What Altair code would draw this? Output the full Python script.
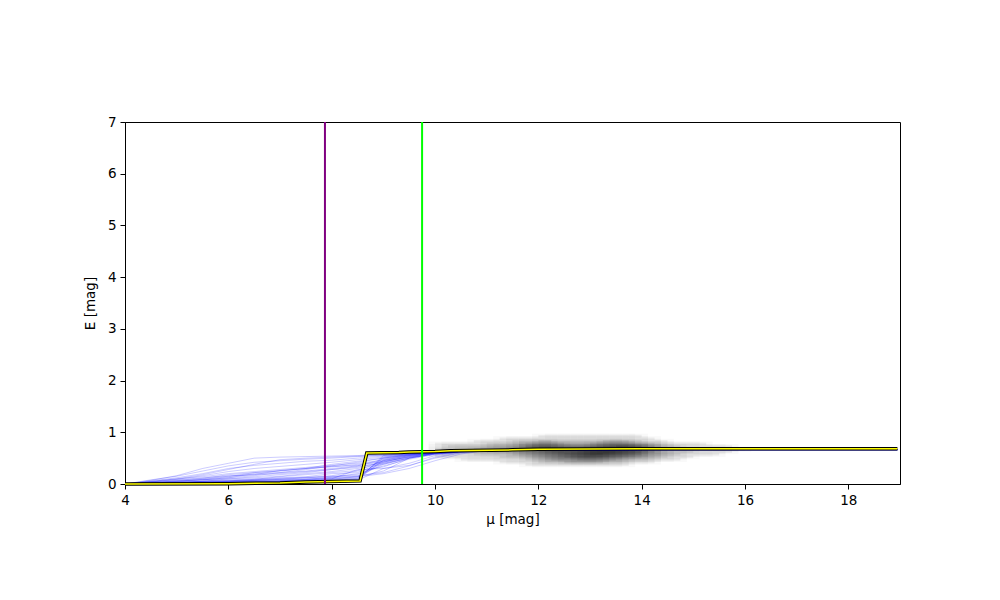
import altair as alt
import pandas as pd

# ---------------- data ----------------
# common distance grid for the sampled extinction profiles
mu_grid = [4.0, 4.5, 5.0, 5.5, 6.0, 6.5, 7.0, 7.5, 8.0, 8.5, 9.0, 9.5, 10.0, 10.5,
           11.0, 12.0, 14.0, 18.95]
sample_tail = [0.645, 0.655, 0.665, 0.665]
samples = [
    [0, 0, 0.01, 0.02, 0.03, 0.04, 0.05, 0.06, 0.07, 0.09, 0.45, 0.55, 0.60, 0.63],
    [0, 0.01, 0.02, 0.02, 0.04, 0.05, 0.05, 0.08, 0.10, 0.12, 0.50, 0.58, 0.61, 0.63],
    [0, 0, 0.01, 0.03, 0.03, 0.06, 0.07, 0.07, 0.09, 0.14, 0.25, 0.50, 0.60, 0.63],
    [0, 0.02, 0.02, 0.03, 0.05, 0.06, 0.08, 0.10, 0.12, 0.15, 0.38, 0.50, 0.58, 0.62],
    [0, 0, 0, 0.01, 0.02, 0.02, 0.04, 0.05, 0.06, 0.08, 0.55, 0.60, 0.62, 0.63],
    [0, 0.01, 0.01, 0.04, 0.04, 0.05, 0.06, 0.09, 0.13, 0.20, 0.35, 0.48, 0.57, 0.62],
    [0, 0, 0.02, 0.02, 0.05, 0.07, 0.09, 0.09, 0.11, 0.14, 0.20, 0.30, 0.45, 0.58],
    [0, 0.01, 0.03, 0.05, 0.06, 0.08, 0.10, 0.12, 0.15, 0.18, 0.40, 0.52, 0.59, 0.63],
    [0, 0, 0.01, 0.01, 0.02, 0.04, 0.04, 0.06, 0.08, 0.10, 0.47, 0.57, 0.61, 0.63],
    [0, 0.02, 0.04, 0.05, 0.07, 0.08, 0.11, 0.13, 0.16, 0.25, 0.33, 0.50, 0.58, 0.62],
    [0, 0.01, 0.02, 0.06, 0.08, 0.10, 0.12, 0.14, 0.20, 0.22, 0.42, 0.53, 0.60, 0.63],
    [0, 0, 0.01, 0.02, 0.03, 0.03, 0.06, 0.08, 0.10, 0.28, 0.30, 0.36, 0.50, 0.60],
    [0, 0.02, 0.03, 0.04, 0.06, 0.09, 0.14, 0.18, 0.22, 0.26, 0.45, 0.55, 0.60, 0.63],
    [0, 0.01, 0.05, 0.08, 0.10, 0.12, 0.15, 0.20, 0.24, 0.30, 0.38, 0.51, 0.59, 0.63],
    [0, 0, 0.01, 0.01, 0.02, 0.03, 0.03, 0.05, 0.06, 0.07, 0.30, 0.40, 0.55, 0.62],
    [0, 0.01, 0.01, 0.02, 0.03, 0.04, 0.05, 0.05, 0.07, 0.11, 0.52, 0.59, 0.61, 0.63],
    [0, 0.03, 0.06, 0.10, 0.15, 0.18, 0.20, 0.24, 0.28, 0.32, 0.42, 0.54, 0.60, 0.63],
    [0, 0.02, 0.04, 0.08, 0.12, 0.20, 0.22, 0.25, 0.30, 0.35, 0.48, 0.56, 0.61, 0.63],
    [0, 0.04, 0.08, 0.12, 0.16, 0.18, 0.26, 0.30, 0.33, 0.38, 0.44, 0.52, 0.59, 0.63],
    [0, 0.01, 0.03, 0.05, 0.10, 0.14, 0.18, 0.22, 0.28, 0.34, 0.40, 0.50, 0.58, 0.62],
    [0, 0.05, 0.10, 0.14, 0.20, 0.24, 0.28, 0.32, 0.36, 0.40, 0.46, 0.55, 0.60, 0.63],
    [0, 0.02, 0.06, 0.08, 0.12, 0.16, 0.22, 0.28, 0.35, 0.42, 0.50, 0.57, 0.61, 0.63],
    [0, 0.03, 0.05, 0.09, 0.14, 0.22, 0.26, 0.30, 0.34, 0.36, 0.43, 0.53, 0.60, 0.63],
    [0, 0.04, 0.07, 0.11, 0.18, 0.22, 0.25, 0.30, 0.38, 0.44, 0.50, 0.56, 0.61, 0.63],
    [0, 0.06, 0.12, 0.20, 0.30, 0.36, 0.40, 0.44, 0.46, 0.50, 0.54, 0.58, 0.61, 0.63],
    [0, 0.08, 0.15, 0.25, 0.35, 0.42, 0.45, 0.48, 0.50, 0.53, 0.56, 0.59, 0.62, 0.63],
    [0, 0.05, 0.10, 0.18, 0.28, 0.38, 0.47, 0.50, 0.52, 0.54, 0.55, 0.58, 0.61, 0.63],
    [0, 0.07, 0.16, 0.30, 0.40, 0.50, 0.52, 0.53, 0.54, 0.55, 0.57, 0.59, 0.62, 0.63],
    [0, 0.04, 0.09, 0.16, 0.24, 0.30, 0.34, 0.38, 0.42, 0.47, 0.52, 0.57, 0.61, 0.63],
    [0, 0.01, 0.02, 0.04, 0.05, 0.07, 0.09, 0.12, 0.14, 0.16, 0.22, 0.35, 0.52, 0.61],
]

# median (best) profile
median_mu = [4.0, 6.0, 7.0, 7.5, 8.55, 8.68, 9.3, 9.5, 10.0, 10.3, 11.5, 12.0, 14.0, 18.95]
median_E = [0.0, 0.005, 0.02, 0.04, 0.06, 0.60, 0.61, 0.62, 0.63, 0.645, 0.66, 0.67, 0.68, 0.68]

# vertical markers
marker_mu = [7.87, 9.75]
marker_name = ["a", "b"]
marker_color = ["#800080", "#00ff00"]

# stellar density image: rows from top (high E) to bottom, columns of 0.25 mag from 10.0
dens_mu0 = 10.0
dens_dmu = 0.25
dens_E_top = 0.95
dens_dE = 0.05
density = [
    [0, 0, 0, 0, 0, 0, 0, 0, 1, 1, 1, 1, 1, 1, 1, 1, 0, 0, 0, 0, 0, 0, 0, 0, 0, 0],
    [0, 0, 0, 0, 0, 1, 1, 1, 1, 1, 1, 1, 1, 1, 1, 1, 1, 0, 0, 0, 0, 0, 0, 0, 0, 0],
    [0, 0, 0, 1, 1, 1, 2, 2, 3, 2, 2, 2, 2, 3, 3, 2, 1, 1, 0, 0, 0, 0, 0, 0, 0, 0],
    [1, 1, 1, 1, 2, 2, 3, 4, 5, 4, 3, 3, 4, 5, 5, 4, 3, 2, 1, 1, 1, 0, 0, 0, 0, 0],
    [1, 2, 2, 2, 3, 3, 4, 6, 7, 6, 5, 5, 6, 7, 8, 7, 5, 3, 2, 1, 1, 1, 1, 0, 0, 0],
    [2, 2, 2, 3, 3, 4, 5, 6, 7, 7, 6, 7, 8, 8, 8, 7, 5, 3, 2, 2, 1, 1, 1, 1, 0, 0],
    [2, 2, 2, 2, 3, 3, 4, 5, 6, 7, 7, 8, 9, 9, 8, 7, 5, 3, 2, 2, 1, 1, 1, 0, 0, 0],
    [1, 1, 1, 2, 2, 2, 3, 4, 5, 6, 7, 8, 9, 8, 7, 6, 4, 3, 2, 1, 1, 1, 0, 0, 0, 0],
    [1, 1, 1, 1, 1, 2, 2, 3, 4, 5, 6, 7, 7, 6, 5, 4, 3, 2, 1, 1, 0, 0, 0, 0, 0, 0],
    [0, 0, 1, 1, 1, 1, 1, 2, 3, 4, 4, 5, 5, 4, 3, 2, 2, 1, 1, 0, 0, 0, 0, 0, 0, 0],
    [0, 0, 0, 0, 0, 1, 1, 1, 2, 2, 3, 3, 3, 2, 2, 1, 1, 0, 0, 0, 0, 0, 0, 0, 0, 0],
    [0, 0, 0, 0, 0, 0, 0, 1, 1, 1, 1, 1, 1, 1, 1, 0, 0, 0, 0, 0, 0, 0, 0, 0, 0, 0],
]

x_ticks = [4, 6, 8, 10, 12, 14, 16, 18]
y_ticks = [0, 1, 2, 3, 4, 5, 6, 7]

# ---------------- tables ----------------
dens_rows = []
for i, row in enumerate(density):
    for j, v in enumerate(row):
        if v > 0:
            dens_rows.append({
                "x": dens_mu0 + j * dens_dmu, "x2": dens_mu0 + (j + 1) * dens_dmu,
                "y": dens_E_top - (i + 1) * dens_dE, "y2": dens_E_top - i * dens_dE,
                # softened footprint (one cell wider on each side) for a smoother look
                "xs": dens_mu0 + (j - 0.5) * dens_dmu, "xs2": dens_mu0 + (j + 1.5) * dens_dmu,
                "ys": dens_E_top - (i + 1.5) * dens_dE, "ys2": dens_E_top - (i - 0.5) * dens_dE,
                "v": v,
            })
dens_df = pd.DataFrame(dens_rows)

samp_rows = []
for k, s in enumerate(samples):
    vals = list(s) + sample_tail
    for o, (m, e) in enumerate(zip(mu_grid, vals)):
        samp_rows.append({"id": k, "o": o, "mu": m, "E": e})
samp_df = pd.DataFrame(samp_rows)

med_df = pd.DataFrame({"mu": median_mu, "E": median_E, "o": list(range(len(median_mu)))})
mark_df = pd.DataFrame({"mu": marker_mu, "name": marker_name})

xs = alt.Scale(domain=[4, 19], nice=False, zero=False)
ys = alt.Scale(domain=[0, 7], nice=False, zero=False)
font = "DejaVu Sans"

xax = alt.Axis(values=x_ticks, title="μ [mag]", grid=False, format="d", labelFlush=False)
yax = alt.Axis(values=y_ticks, title="E [mag]", grid=False, format="d", labelFlush=False)

dens_soft = alt.Chart(dens_df).mark_rect(color="black", strokeWidth=0).encode(
    x=alt.X("xs:Q", scale=xs, axis=xax),
    x2="xs2:Q",
    y=alt.Y("ys:Q", scale=ys, axis=yax),
    y2="ys2:Q",
    opacity=alt.Opacity("v:Q", scale=alt.Scale(domain=[0, 9], range=[0, 0.2]), legend=None),
)
dens = alt.Chart(dens_df).mark_rect(color="black", strokeWidth=0).encode(
    x=alt.X("x:Q", scale=xs),
    x2="x2:Q",
    y=alt.Y("y:Q", scale=ys),
    y2="y2:Q",
    opacity=alt.Opacity("v:Q", scale=alt.Scale(domain=[0, 9], range=[0, 0.5]), legend=None),
)

lines = alt.Chart(samp_df).mark_line(color="#0000ff", strokeWidth=0.8, opacity=0.25).encode(
    x=alt.X("mu:Q", scale=xs),
    y=alt.Y("E:Q", scale=ys),
    detail="id:N",
    order="o:Q",
)

med_black = alt.Chart(med_df).mark_line(color="black", strokeWidth=3.5).encode(
    x=alt.X("mu:Q", scale=xs), y=alt.Y("E:Q", scale=ys), order="o:Q")
med_yellow = alt.Chart(med_df).mark_line(color="#ffff00", strokeWidth=1.5).encode(
    x=alt.X("mu:Q", scale=xs), y=alt.Y("E:Q", scale=ys), order="o:Q")

rules = alt.Chart(mark_df).mark_rule(strokeWidth=2).encode(
    x=alt.X("mu:Q", scale=xs),
    color=alt.Color("name:N", scale=alt.Scale(domain=marker_name, range=marker_color), legend=None),
)

chart = alt.layer(dens_soft, dens, lines, med_black, med_yellow, rules).resolve_scale(
    opacity="independent"
).properties(
    width=775, height=362,
    autosize=alt.AutoSizeParams(type="none"),
    padding={"left": 117, "top": 114, "right": 60, "bottom": 70},
    background="white",
).configure_view(stroke="black", strokeWidth=1).configure_axis(
    domainColor="black", tickColor="black", labelColor="black", titleColor="black",
    labelFont=font, titleFont=font, labelFontSize=13.5, titleFontSize=13.5,
    titleFontWeight="normal", tickSize=5, labelPadding=4, domainWidth=1,
).configure_axisX(titlePadding=6).configure_axisY(titlePadding=10)

chart.save("out.html", embed_options={"renderer": "svg", "actions": False})
